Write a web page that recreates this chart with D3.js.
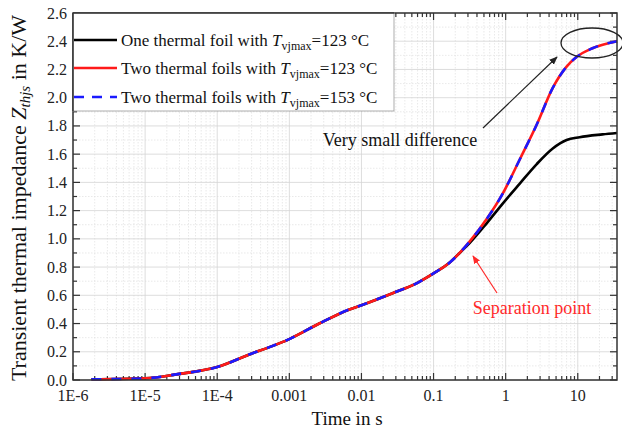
<!DOCTYPE html>
<html lang="en">
<head>
    <meta charset="UTF-8">
    <title>Transient thermal impedance</title>
    <script src="https://d3js.org/d3.v7.min.js"></script>
    <style>
        body { margin: 0; background: #fff; }
        svg { display: block; font-family: "Liberation Serif", "Times New Roman", serif; }
        .grid-major { stroke: #d4d4d4; stroke-width: 0.8px; }
        .grid-minor { stroke: #e0e0e0; stroke-width: 0.7px; stroke-dasharray: 1.5,1.5; }
        .tick-label { font-size: 16px; fill: #222; }
        .frame { fill: none; stroke: #333; stroke-width: 1.5px; }
    </style>
</head>
<body>
<svg id="chart" width="622" height="436"></svg>
<script>
    // time in s and Zthjs in K/W
    const timeTwo = [1.8e-6, 1e-5, 2.7e-5, 1e-4, 3.1e-4, 5.3e-4, 1e-3, 2.6e-3, 6.8e-3, 0.01, 0.027, 0.058, 0.1, 0.166, 0.23, 0.316, 0.545, 0.91, 1.56, 2.7, 4.5, 7.0, 9.7, 16, 35];
    const zthRed  = [0.005, 0.012, 0.04, 0.092, 0.19, 0.233, 0.29, 0.40, 0.50, 0.53, 0.615, 0.685, 0.755, 0.83, 0.90, 0.98, 1.14, 1.32, 1.56, 1.81, 2.07, 2.22, 2.29, 2.35, 2.40];
    const zthBlue = [0.005, 0.012, 0.04, 0.092, 0.19, 0.233, 0.29, 0.40, 0.50, 0.53, 0.615, 0.685, 0.755, 0.83, 0.90, 0.98, 1.14, 1.32, 1.56, 1.81, 2.07, 2.22, 2.29, 2.35, 2.40];
    const timeOne = [1.8e-6, 1e-5, 2.7e-5, 1e-4, 3.1e-4, 5.3e-4, 1e-3, 2.6e-3, 6.8e-3, 0.01, 0.027, 0.058, 0.1, 0.166, 0.23, 0.316, 0.545, 0.91, 1.56, 2.7, 4.5, 7.0, 10.6, 22, 35];
    const zthBlack = [0.005, 0.012, 0.04, 0.092, 0.19, 0.233, 0.29, 0.40, 0.50, 0.53, 0.615, 0.685, 0.755, 0.83, 0.90, 0.97, 1.11, 1.25, 1.39, 1.53, 1.64, 1.70, 1.72, 1.74, 1.75];

    const xTicks = [1e-6, 1e-5, 1e-4, 1e-3, 0.01, 0.1, 1, 10];
    const xTickLabels = ["1E-6", "1E-5", "1E-4", "0.001", "0.01", "0.1", "1", "10"];
    const yTicks = [0, 0.2, 0.4, 0.6, 0.8, 1.0, 1.2, 1.4, 1.6, 1.8, 2.0, 2.2, 2.4, 2.6];

    const svg = d3.select("#chart");
    const pLeft = 73, pRight = 617, pTop = 13, pBottom = 380;

    const x = d3.scaleLog().domain([1e-6, 35]).range([pLeft, pRight]);
    const y = d3.scaleLinear().domain([0, 2.6]).range([pBottom, pTop]);

    // minor positions
    const xMinor = [];
    for (let e = -6; e <= 1; e++) {
        for (let m = 2; m <= 9; m++) {
            const v = m * Math.pow(10, e);
            if (v < 35) xMinor.push(v);
        }
    }
    const yMinor = d3.range(0.1, 2.6, 0.2);

    const grid = svg.append("g");
    grid.selectAll(".gxm").data(xMinor).join("line")
        .attr("class", "grid-minor")
        .attr("x1", d => x(d)).attr("x2", d => x(d))
        .attr("y1", pTop).attr("y2", pBottom);
    grid.selectAll(".gym").data(yMinor).join("line")
        .attr("class", "grid-minor")
        .attr("x1", pLeft).attr("x2", pRight)
        .attr("y1", d => y(d)).attr("y2", d => y(d));
    grid.selectAll(".gx").data(xTicks).join("line")
        .attr("class", "grid-major")
        .attr("x1", d => x(d)).attr("x2", d => x(d))
        .attr("y1", pTop).attr("y2", pBottom);
    grid.selectAll(".gy").data(yTicks).join("line")
        .attr("class", "grid-major")
        .attr("x1", pLeft).attr("x2", pRight)
        .attr("y1", d => y(d)).attr("y2", d => y(d));

    // ticks (inward, on all four sides)
    const ticks = svg.append("g").attr("stroke", "#333").attr("stroke-width", 1.2);
    const addTicks = (vals, len) => {
        vals.forEach(v => {
            ticks.append("line").attr("x1", x(v)).attr("x2", x(v)).attr("y1", pBottom).attr("y2", pBottom - len);
            ticks.append("line").attr("x1", x(v)).attr("x2", x(v)).attr("y1", pTop).attr("y2", pTop + len);
        });
    };
    addTicks(xTicks, 7);
    addTicks(xMinor, 4);
    const addYTicks = (vals, len) => {
        vals.forEach(v => {
            ticks.append("line").attr("y1", y(v)).attr("y2", y(v)).attr("x1", pLeft).attr("x2", pLeft + len);
            ticks.append("line").attr("y1", y(v)).attr("y2", y(v)).attr("x1", pRight).attr("x2", pRight - len);
        });
    };
    addYTicks(yTicks, 7);
    addYTicks(yMinor, 4);

    // tick labels
    svg.selectAll(".xl").data(xTicks).join("text")
        .attr("class", "tick-label")
        .attr("x", d => x(d)).attr("y", 401)
        .attr("text-anchor", "middle")
        .text((d, i) => xTickLabels[i]);
    svg.selectAll(".yl").data(yTicks).join("text")
        .attr("class", "tick-label")
        .attr("x", 67).attr("y", d => y(d) + 5.5)
        .attr("text-anchor", "end")
        .text(d => d.toFixed(1));

    // curves
    const line = d3.line().x(d => x(d[0])).y(d => y(d[1])).curve(d3.curveMonotoneX);
    const plot = svg.append("g");
    plot.append("path")
        .attr("d", line(d3.zip(timeOne, zthBlack)))
        .attr("fill", "none").attr("stroke", "#000").attr("stroke-width", 2.6);
    plot.append("path")
        .attr("d", line(d3.zip(timeTwo, zthRed)))
        .attr("fill", "none").attr("stroke", "#ff1a1a").attr("stroke-width", 2.6);
    plot.append("path")
        .attr("d", line(d3.zip(timeTwo, zthBlue)))
        .attr("fill", "none").attr("stroke", "#1a1aff").attr("stroke-width", 2.6)
        .attr("stroke-dasharray", "10,10");

    // frame
    svg.append("rect").attr("class", "frame")
        .attr("x", pLeft).attr("y", pTop).attr("width", pRight - pLeft).attr("height", pBottom - pTop);

    // legend
    const legend = svg.append("g");
    legend.append("rect")
        .attr("x", pLeft).attr("y", pTop).attr("width", 321).attr("height", 98)
        .attr("fill", "#fff").attr("stroke", "#999").attr("stroke-width", 0.8);
    legend.append("line").attr("x1", pLeft).attr("x2", pLeft).attr("y1", pTop).attr("y2", 111)
        .attr("stroke", "#333").attr("stroke-width", 1.5);
    legend.append("line").attr("x1", pLeft).attr("x2", 394).attr("y1", pTop).attr("y2", pTop)
        .attr("stroke", "#333").attr("stroke-width", 1.5);
    const entries = [
        { text: "One thermal foil with ", temp: "=123 °C", color: "#000", dash: null, yy: 40 },
        { text: "Two thermal foils with ", temp: "=123 °C", color: "#ff1a1a", dash: null, yy: 68 },
        { text: "Two thermal foils with ", temp: "=153 °C", color: "#1a1aff", dash: "10,8", yy: 97 }
    ];
    entries.forEach(e => {
        legend.append("line")
            .attr("x1", pLeft + 1).attr("x2", 117).attr("y1", e.yy).attr("y2", e.yy)
            .attr("stroke", e.color).attr("stroke-width", 2.6)
            .attr("stroke-dasharray", e.dash);
        const t = legend.append("text").attr("x", 121).attr("y", e.yy + 6)
            .attr("font-size", 17).attr("fill", "#111");
        t.append("tspan").text(e.text);
        t.append("tspan").attr("font-style", "italic").text("T");
        t.append("tspan").attr("font-size", 12).attr("dy", 4).text("vjmax");
        t.append("tspan").attr("dy", -4).text(e.temp);
    });

    // annotations
    svg.append("defs").html(`
        <marker id="headBlack" viewBox="0 0 10 10" refX="9" refY="5" markerWidth="7" markerHeight="7" orient="auto">
            <path d="M0,1 L10,5 L0,9 z" fill="#222"/></marker>
        <marker id="headRed" viewBox="0 0 10 10" refX="9" refY="5" markerWidth="7" markerHeight="7" orient="auto">
            <path d="M0,1 L10,5 L0,9 z" fill="#ff2a2a"/></marker>`);

    svg.append("ellipse")
        .attr("cx", 592).attr("cy", 43).attr("rx", 31).attr("ry", 15)
        .attr("fill", "none").attr("stroke", "#222").attr("stroke-width", 1.3);
    svg.append("line")
        .attr("x1", 483).attr("y1", 128).attr("x2", 557).attr("y2", 57)
        .attr("stroke", "#222").attr("stroke-width", 1.2)
        .attr("marker-end", "url(#headBlack)");
    svg.append("text")
        .attr("x", 400).attr("y", 146).attr("text-anchor", "middle")
        .attr("font-size", 18).attr("fill", "#111")
        .text("Very small difference");

    svg.append("line")
        .attr("x1", 497).attr("y1", 293).attr("x2", 473).attr("y2", 256)
        .attr("stroke", "#ff2a2a").attr("stroke-width", 1.2)
        .attr("marker-end", "url(#headRed)");
    svg.append("text")
        .attr("x", 532).attr("y", 314).attr("text-anchor", "middle")
        .attr("font-size", 18).attr("fill", "#ff2a2a")
        .text("Separation point");

    // axis titles
    svg.append("text")
        .attr("x", 347).attr("y", 425).attr("text-anchor", "middle")
        .attr("font-size", 19).attr("fill", "#111")
        .text("Time in s");

    const yt = svg.append("text")
        .attr("transform", "translate(26,198) rotate(-90)")
        .attr("text-anchor", "middle")
        .attr("font-size", 22).attr("fill", "#111");
    yt.append("tspan").text("Transient thermal impedance ");
    yt.append("tspan").attr("font-style", "italic").text("Z");
    yt.append("tspan").attr("font-style", "italic").attr("font-size", 15).attr("dy", 4).text("thjs");
    yt.append("tspan").attr("dy", -4).text(" in K/W");
</script>
</body>
</html>
